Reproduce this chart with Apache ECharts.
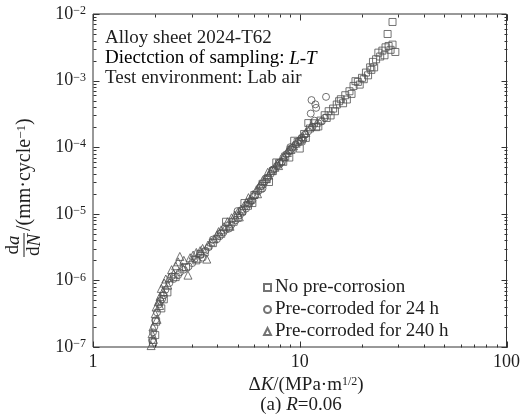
<!DOCTYPE html>
<html>
<head>
<meta charset="utf-8">
<script src="https://cdn.jsdelivr.net/npm/echarts@6/dist/echarts.min.js"></script>
<style>
html,body{margin:0;padding:0;background:#fff;}
#chart{width:523px;height:414px;}
</style>
</head>
<body>
<div id="chart"></div>
<script>
// ---------- data (ΔK in MPa·m^1/2, da/dN in mm/cycle) ----------
const seriesNames = ['No pre-corrosion', 'Pre-corroded for 24 h', 'Pre-corroded for 240 h'];

const sqK = [1.95,2.00,2.02,2.14,2.2,2.29,2.51,2.82,3.16,3.3,3.47,3.80,4.17,4.4,4.57,4.79,5.01,5.25,5.4,5.62,5.9,6.03,6.46,6.61,6.92,7.1,7.41,7.7,7.94,8.32,8.51,8.9,9.12,9.4,9.77,10.0,10.2,10.5,10.7,11.0,11.2,11.7,12.0,12.3,12.6,13.2,13.5,13.8,14.1,14.5,14.8,15.1,15.5,15.8,16.2,16.6,16.9,17.4,17.8,18.2,18.6,19.1,19.5,20.0,20.4,20.9,21.4,21.9,22.2,22.6,22.9,23.4,24.0,24.5,25.1,25.7,26.0,26.9,27.5,28.1,29.0,26.6,28.1];
const sqRate = [1.17e-7,1.51e-7,2.40e-7,3.80e-7,5.2e-7,6.61e-7,1.12e-6,1.58e-6,2.0e-6,2.5e-6,2.63e-6,3.63e-6,5.01e-6,7.6e-6,6.61e-6,7.59e-6,8.71e-6,1.10e-5,1.45e-5,1.32e-5,1.45e-5,1.91e-5,2.40e-5,2.82e-5,3.31e-5,3.0e-5,4.37e-5,5.9e-5,5.75e-5,6.03e-5,7.24e-5,7.0e-5,9.12e-5,1.25e-4,1.20e-4,9.55e-5,1.25e-4,1.58e-4,1.38e-4,2.3e-4,1.91e-4,2.29e-4,2.0e-4,2.05e-4,2.51e-4,3.02e-4,2.75e-4,3.47e-4,3.0e-4,3.80e-4,3.47e-4,4.37e-4,4.9e-4,5.25e-4,4.57e-4,6.03e-4,5.2e-4,6.92e-4,6.31e-4,8.32e-4,9.8e-4,9.55e-4,8.71e-4,1.10e-3,1.05e-3,1.32e-3,1.20e-3,1.58e-3,1.45e-3,1.91e-3,1.58e-3,2.09e-3,2.63e-3,2.3e-3,2.82e-3,2.40e-3,3.16e-3,3.31e-3,2.9e-3,3.47e-3,2.69e-3,5.01e-3,7.59e-3];

const c24K = [1.93,1.95,1.98,2.00,2.04,2.09,2.12,2.16,2.20,2.24,2.34,2.40,2.45,2.58,2.63,2.75,2.90,3.02,3.10,3.31,3.40,3.50,3.63,3.80,3.98,4.10,4.27,4.40,4.55,4.68,4.90,5.0,5.13,5.30,5.50,5.70,5.8,5.89,6.10,6.31,6.50,6.6,6.76,7.00,7.24,7.4,7.50,7.76,8.00,8.2,8.32,8.60,8.91,9.0,9.20,9.55,9.90,10.2,10.4,10.6,11.0,11.5,11.8,12.3,12.8,13.2,11.4,13.4,12.0,11.3,11.9];
const c24Rate = [1.26e-7,1.66e-7,2.0e-7,2.51e-7,3.31e-7,4.37e-7,4.9e-7,5.25e-7,6.0e-7,7.24e-7,9.12e-7,1.15e-6,1.05e-6,1.20e-6,1.32e-6,1.45e-6,1.62e-6,1.82e-6,2.1e-6,2.40e-6,2.2e-6,2.8e-6,3.16e-6,4.1e-6,4.17e-6,4.6e-6,5.25e-6,5.8e-6,6.0e-6,6.92e-6,8.0e-6,1.1e-5,9.55e-6,1.05e-5,1.20e-5,1.40e-5,1.55e-5,1.58e-5,1.90e-5,2.19e-5,2.60e-5,2.4e-5,3.02e-5,3.50e-5,3.98e-5,4.6e-5,4.60e-5,5.25e-5,5.90e-5,6.0e-5,6.92e-5,7.80e-5,8.71e-5,1.0e-4,9.80e-5,1.10e-4,1.25e-4,1.38e-4,1.3e-4,1.55e-4,1.74e-4,2.0e-4,2.5e-4,2.29e-4,2.45e-4,2.75e-4,5.1e-4,5.7e-4,3.9e-4,3.2e-4,4.4e-4];

const t240K = [1.91,1.93,1.95,1.96,2.00,2.02,2.04,2.07,2.10,2.11,2.14,2.18,2.21,2.25,2.30,2.34,2.40,2.45,2.51,2.58,2.63,2.70,2.75,2.88,2.95,3.05,3.16,3.20,3.30,3.39,3.55,3.60,3.72,3.85,3.98,4.05,4.17,4.30,4.47,4.60,4.68,4.85,5.01,5.10,5.20,5.37,5.55,5.65,5.75,5.95,6.17,6.25,6.40,6.61,6.85,7.00,7.08,7.30,7.59,7.80,7.90,8.13,8.40,8.71,8.80,9.00,9.33,9.60,10.0,10.3,10.7,11.3];
const t240Rate = [1.05e-7,1.58e-7,2.0e-7,1.3e-7,3.16e-7,3.98e-7,2.6e-7,4.79e-7,4.2e-7,5.75e-7,7.59e-7,6.8e-7,9.12e-7,1.05e-6,8.5e-7,1.10e-6,1.45e-6,1.25e-6,1.66e-6,1.9e-6,2.29e-6,1.6e-6,2.0e-6,1.20e-6,2.19e-6,2.4e-6,2.63e-6,2.15e-6,2.8e-6,3.02e-6,2.09e-6,3.4e-6,3.80e-6,4.2e-6,4.79e-6,5.4e-6,5.75e-6,6.4e-6,7.59e-6,6.5e-6,8.71e-6,9.6e-6,1.05e-5,9.0e-6,1.18e-5,1.32e-5,1.50e-5,1.75e-5,1.66e-5,1.95e-5,2.29e-5,2.0e-5,2.70e-5,3.16e-5,3.40e-5,4.2e-5,3.80e-5,4.50e-5,5.01e-5,5.60e-5,5.3e-5,6.31e-5,7.20e-5,8.32e-5,9.2e-5,9.40e-5,1.05e-4,1.15e-4,1.32e-4,1.45e-4,1.66e-4,2.05e-4];

// axis ticks
const xMajorTicks = [1, 10, 100];
const xDecades = [1, 10];
const yMajorTicks = [1e-7, 1e-6, 1e-5, 1e-4, 1e-3, 1e-2];
const yDecades = [1e-7, 1e-6, 1e-5, 1e-4, 1e-3];
const minorMultipliers = [2, 3, 4, 5, 6, 7, 8, 9];

// ---------- build ----------
const zip = (a, b) => a.map((v, i) => [v, b[i]]);
const FONT = "'Liberation Serif','Times New Roman',serif";
const INK = '#1e1e1e';
const MARK = '#505050';

const X0 = 1, X1 = 100, Y0 = 1e-7, Y1 = 1e-2;
const tickData = [];
function addX(v, len) { tickData.push([v, Y0, 0, -len]); tickData.push([v, Y1, 0, len]); }
function addY(v, len) { tickData.push([X0, v, len, 0]); tickData.push([X1, v, -len, 0]); }
xMajorTicks.forEach(v => addX(v, 6));
xDecades.forEach(d => minorMultipliers.forEach(m => addX(m * d, 3)));
yMajorTicks.forEach(v => addY(v, 6));
yDecades.forEach(d => minorMultipliers.forEach(m => addY(m * d, 3)));

const chart = echarts.init(document.getElementById('chart'), null, {renderer: 'canvas'});

const scatterBase = {
  type: 'scatter',
  itemStyle: {color: 'rgba(0,0,0,0)', borderColor: MARK, borderWidth: 1},
  emphasis: {disabled: true},
  silent: true,
  z: 3
};

const option = {
  animation: false,
  backgroundColor: '#fff',
  textStyle: {fontFamily: FONT},
  grid: {left: 93, right: 13, top: 14, bottom: 67, show: true, borderColor: '#333', borderWidth: 1, backgroundColor: 'transparent'},
  xAxis: {
    type: 'log', logBase: 10, min: X0, max: X1,
    axisLine: {show: false}, axisTick: {show: false}, splitLine: {show: false},
    axisLabel: {
      fontSize: 18, color: INK, fontFamily: FONT, margin: 6,
      formatter: v => String(Math.round(v))
    }
  },
  yAxis: {
    type: 'log', logBase: 10, min: Y0, max: Y1,
    axisLine: {show: false}, axisTick: {show: false}, splitLine: {show: false},
    axisLabel: {
      fontSize: 18, color: INK, fontFamily: FONT, margin: 7,
      formatter: v => '10{s|\u2212' + Math.abs(Math.round(Math.log10(v))) + '}',
      rich: {s: {fontSize: 12, fontFamily: FONT, color: INK, verticalAlign: 'top', padding: [0, 0, 6, 0]}}
    }
  },
  legend: {
    orient: 'vertical', left: 258, top: 273,
    itemWidth: 7, itemHeight: 7, itemGap: 3,
    textStyle: {fontSize: 19, fontFamily: FONT, color: INK, padding: [0, 0, 0, -1]},
    data: seriesNames,
    selectedMode: false
  },
  series: [
    Object.assign({}, scatterBase, {name: seriesNames[0], symbol: 'rect', symbolSize: 7, data: zip(sqK, sqRate)}),
    Object.assign({}, scatterBase, {name: seriesNames[1], symbol: 'circle', symbolSize: 7, data: zip(c24K, c24Rate)}),
    Object.assign({}, scatterBase, {name: seriesNames[2], symbol: 'triangle', symbolSize: 8, data: zip(t240K, t240Rate)}),
    {
      type: 'custom', silent: true, clip: false, z: 5,
      data: tickData,
      renderItem: function (params, api) {
        const p = api.coord([api.value(0), api.value(1)]);
        const x = Math.round(p[0]) + 0.5, y = Math.round(p[1]) + 0.5;
        return {type: 'line', shape: {x1: x, y1: y, x2: x + api.value(2), y2: y + api.value(3)},
                style: {stroke: '#333', lineWidth: 1}};
      }
    }
  ],
  graphic: [
    {type: 'text', left: 105, top: 29, style: {text: 'Alloy sheet 2024-T62', font: '19px ' + FONT, fill: INK}},
    {type: 'text', left: 105, top: 49, style: {
      text: '{n|Diectction of sampling: }{i|L-T}',
      rich: {n: {fontSize: 19, fontFamily: FONT, color: INK}, i: {fontSize: 19, fontFamily: FONT, fontStyle: 'italic', color: INK}}
    }},
    {type: 'text', left: 105, top: 69, style: {text: 'Test environment: Lab air', font: '19px ' + FONT, fill: INK}},
    {type: 'text', x: 306, y: 385, style: {
      text: '\u0394{i|K}/(MPa\u00b7m{s|1/2})', align: 'center', verticalAlign: 'middle',
      font: '19px ' + FONT, fill: INK,
      rich: {i: {fontSize: 19, fontFamily: FONT, fontStyle: 'italic', color: INK},
             s: {fontSize: 12, fontFamily: FONT, color: INK, verticalAlign: 'top', padding: [0, 0, 6, 0]}}
    }},
    {type: 'text', x: 301, y: 405, style: {
      text: '(a) {i|R}=0.06', align: 'center', verticalAlign: 'middle',
      font: '19px ' + FONT, fill: INK,
      rich: {i: {fontSize: 19, fontFamily: FONT, fontStyle: 'italic', color: INK}}
    }},
    {type: 'group', x: 24, y: 184, rotation: Math.PI / 2, children: [
      {type: 'text', x: -61, y: -1, style: {text: 'd{i|a}', align: 'center', verticalAlign: 'bottom', font: '19px ' + FONT, fill: INK,
        rich: {i: {fontSize: 19, fontFamily: FONT, fontStyle: 'italic', color: INK}}}},
      {type: 'line', shape: {x1: -73, y1: 0, x2: -49, y2: 0}, style: {stroke: INK, lineWidth: 1}},
      {type: 'text', x: -61, y: 1, style: {text: 'd{i|N}', align: 'center', verticalAlign: 'top', font: '19px ' + FONT, fill: INK,
        rich: {i: {fontSize: 19, fontFamily: FONT, fontStyle: 'italic', color: INK}}}},
      {type: 'text', x: -47, y: 1, style: {text: '/(mm\u00b7cycle{s|\u22121})', align: 'left', verticalAlign: 'middle', font: '20px ' + FONT, fill: INK,
        rich: {s: {fontSize: 13, fontFamily: FONT, color: INK, verticalAlign: 'top', padding: [0, 0, 6, 0]}}}}
    ]}
  ]
};
chart.setOption(option);
</script>
</body>
</html>
